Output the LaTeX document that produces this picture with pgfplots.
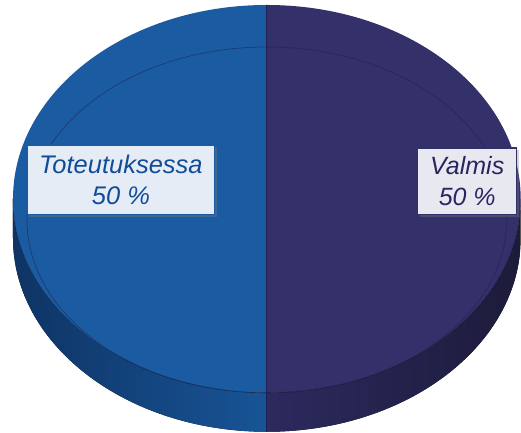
\documentclass[border=0pt]{standalone}
\usepackage{fontspec}
\setmainfont{Liberation Sans}
\usepackage{pgfplots}
\usepackage{pgfplotstable}
\pgfplotsset{compat=1.18}
\usetikzlibrary{shadows}

\definecolor{blueTop}{RGB}{27,91,162}
\definecolor{blueSideL}{RGB}{14,52,100}
\definecolor{blueSideR}{RGB}{24,84,150}
\definecolor{navyTop}{RGB}{51,48,106}
\definecolor{navySideL}{RGB}{44,42,94}
\definecolor{navySideR}{RGB}{28,27,58}
\definecolor{splitLine}{RGB}{30,32,80}
\definecolor{blueText}{RGB}{17,76,150}
\definecolor{navyText}{RGB}{40,38,96}
\definecolor{blueBox}{RGB}{229,236,245}
\definecolor{navyBox}{RGB}{232,232,240}

\pgfplotstableread{
label value
Toteutuksessa 50
Valmis 50
}\piedata

\pgfplotstablegetelem{0}{value}\of\piedata
\let\valA\pgfplotsretval
\pgfplotstablegetelem{1}{value}\of\piedata
\let\valB\pgfplotsretval
\pgfmathsetmacro\fracA{\valA/(\valA+\valB)}
\pgfmathsetmacro\fracB{\valB/(\valA+\valB)}
\pgfmathsetmacro\angA{360*\fracA}
\pgfmathsetmacro\endA{90+\angA}
\pgfmathtruncatemacro\pctAi{round(100*\fracA)}
\pgfmathtruncatemacro\pctBi{round(100*\fracB)}

\def\cx{267}
\def\cy{234}
\def\rx{254}
\def\ry{194}
\def\cyb{195}

\begin{document}
\begin{tikzpicture}
\begin{axis}[
  x=1pt, y=1pt,
  xmin=0, xmax=521, ymin=0, ymax=433,
  hide axis,
  clip=false,
]
\path (axis cs:0,0) rectangle (axis cs:521,433);
% side of left slice (visible 180..270)
\fill[left color=blueSideL, right color=blueSideR]
  (axis cs:{\cx-\rx},\cy) arc[start angle=180, end angle=270, x radius=\rx, y radius=\ry]
  -- (axis cs:\cx,{\cyb-\ry}) arc[start angle=270, end angle=180, x radius=\rx, y radius=\ry] -- cycle;
% side of right slice (visible 270..360)
\fill[left color=navySideL, right color=navySideR]
  (axis cs:\cx,{\cy-\ry}) arc[start angle=270, end angle=360, x radius=\rx, y radius=\ry]
  -- (axis cs:{\cx+\rx},\cyb) arc[start angle=0, end angle=-90, x radius=\rx, y radius=\ry] -- cycle;
% top faces
\fill[blueTop] (axis cs:\cx,\cy) -- (axis cs:\cx,{\cy+\ry})
  arc[start angle=90, end angle=\endA, x radius=\rx, y radius=\ry] -- cycle;
\fill[navyTop] (axis cs:\cx,\cy) -- (axis cs:\cx,{\cy-\ry})
  arc[start angle=\endA, end angle=450, x radius=\rx, y radius=\ry] -- cycle;
% bevel line
\draw[splitLine, opacity=0.55, line width=0.7pt]
  (axis cs:\cx,213) ellipse [x radius=240, y radius=173];
% top edge highlight
\draw[black, opacity=0.25, line width=0.6pt]
  (axis cs:{\cx-\rx},\cy) arc[start angle=180, end angle=360, x radius=\rx, y radius=\ry];
% split line
\draw[splitLine, line width=0.8pt] (axis cs:\cx,{\cy+\ry}) -- (axis cs:\cx,{\cyb-\ry});
% labels
\node[draw=blueTop, line width=1.2pt, fill=blueBox, text=blueText,
      minimum width=188pt, minimum height=70pt, inner sep=0pt, align=center,
      font=\fontsize{25.5}{31}\selectfont\itshape,
      drop shadow={opacity=0.35, shadow xshift=2pt, shadow yshift=-2pt}]
  at (axis cs:121,253) {Toteutuksessa\\ \pctAi\ \%};
\node[draw=navyTop, line width=1.2pt, fill=navyBox, text=navyText,
      minimum width=99pt, minimum height=67pt, inner sep=0pt, align=center,
      font=\fontsize{25}{31}\selectfont\itshape,
      drop shadow={opacity=0.35, shadow xshift=2pt, shadow yshift=-2pt}]
  at (axis cs:467.5,251.5) {Valmis\\ \pctBi\ \%};
\end{axis}
\end{tikzpicture}
\end{document}
